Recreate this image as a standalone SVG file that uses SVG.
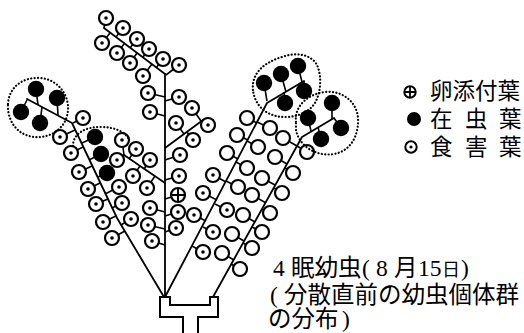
<svg xmlns="http://www.w3.org/2000/svg" width="524" height="333" viewBox="0 0 524 333">
  <style>
    .st { stroke: #000; stroke-width: 1.8; fill: none; stroke-linecap: round; stroke-linejoin: round; }
    .pt { stroke: #000; stroke-width: 1.6; fill: none; }
    .ring { stroke: #000; stroke-width: 2.2; fill: none; stroke-dasharray: 0.1 3.3; stroke-linecap: round; }
    .base { stroke: #000; stroke-width: 2; fill: none; stroke-linejoin: miter; }
    .tx { font-family: "Liberation Serif", "Noto Sans CJK JP", serif; fill: #000; }
  </style>
  <defs>
    <!-- leaf types: open, damaged (dot), occupied (solid), egg-bearing (cross) -->
    <g id="o"><circle r="7" fill="#fff" stroke="#000" stroke-width="2.2"/></g>
    <g id="d"><circle r="7" fill="#fff" stroke="#000" stroke-width="2.2"/><circle r="1.8" fill="#000"/></g>
    <g id="b"><circle r="8.2" fill="#000"/></g>
    <g id="x"><circle r="7" fill="#fff" stroke="#000" stroke-width="2.2"/><path d="M-7,0H7M0,-7V7" stroke="#000" stroke-width="1.9"/></g>
  </defs>
  <rect width="524" height="333" fill="#fff"/>

  <!-- pedestal -->
  <path id="base" class="base" d="M183,333V317H160V297H170V305H210V297H218V317H198V333"/>

  <!-- stems -->
  <g id="stems" class="st">
    <path d="M104,28L165,74"/>
    <path d="M165,74V297"/>
    <path d="M165,148L203,120"/>
    <path d="M165,183L124,155"/>
    <path d="M164,297L117,218L72,123L27,99"/>
    <path d="M165,297L267,103L304,81"/>
    <path d="M213,297L302,137L334,118"/>
  </g>

  <!-- petioles -->
  <path id="petioles" class="pt" d="
    M106,18L104,28 M123,28L116,37 M137,39L130,48 M149,49L143,57 M163,59L156,68
    M102,43L110,33 M117,53L124,44 M130,63L137,53 M143,76L152,64 M179,65L166,75
    M148,93L165,97 M179,97L165,101 M150,112L165,116 M180,155L165,160 M179,176L165,180
    M178,195L165,199 M178,212L165,216 M176,228L165,232 M150,208L165,212 M148,225L165,229 M152,241L165,245
    M176,123L184,134 M192,108L201,121 M193,140L187,132
    M150,160L144,169 M136,149L129,159 M122,140L124,155 M117,160L124,155 M133,176L140,166 M147,188L155,176
    M60,137L75,130 M71,153L83,147 M79,172L92,166 M88,189L100,183 M96,204L108,199 M103,222L116,216 M112,238L125,231
    M95,137L82,143 M101,154L89,160 M107,173L98,177 M119,187L105,194 M122,203L112,208 M131,219L121,225 M83,118L73,123
    M36,89L38,105 M57,98L58,115 M21,112L27,100 M40,123L42,107
    M247,118L257,123 M237,135L248,140 M227,153L238,159 M213,175L226,182 M203,193L217,200 M194,215L206,221
    M270,128L257,122 M258,147L247,141 M247,168L236,162 M238,187L226,181 M227,210L215,204 M213,232L203,227 M203,252L192,246
    M264,83L267,101 M281,74L286,92 M298,66L302,82 M304,91L304,81 M285,103L284,92
    M283,138L297,146 M275,157L287,164 M262,178L275,185 M252,195L266,203 M243,215L255,222 M232,234L244,241 M222,253L234,260
    M307,152L297,146 M293,173L285,168 M282,193L274,188 M270,213L262,209 M262,232L252,227 M252,248L243,243 M240,269L231,264
    M308,118L311,131 M332,103L332,119 M341,128L334,118 M321,139L318,127"/>

  <!-- leaves -->
  <g id="leaves">
    <use href="#d" x="106" y="18"/><use href="#d" x="123" y="28"/><use href="#d" x="137" y="39"/>
    <use href="#d" x="149" y="49"/><use href="#d" x="163" y="59"/><use href="#d" x="102" y="43"/>
    <use href="#d" x="117" y="53"/><use href="#d" x="130" y="63"/><use href="#d" x="143" y="76"/>
    <use href="#d" x="179" y="65"/><use href="#d" x="148" y="93"/><use href="#d" x="179" y="97"/>
    <use href="#d" x="150" y="112"/><use href="#d" x="176" y="123"/><use href="#d" x="192" y="108"/>
    <use href="#d" x="208" y="125"/><use href="#d" x="193" y="140"/><use href="#d" x="180" y="155"/>
    <use href="#d" x="179" y="176"/><use href="#x" x="178" y="195"/><use href="#d" x="178" y="212"/>
    <use href="#d" x="176" y="228"/><use href="#d" x="150" y="208"/><use href="#d" x="148" y="225"/>
    <use href="#d" x="152" y="241"/><use href="#d" x="150" y="160"/><use href="#d" x="136" y="149"/>
    <use href="#d" x="122" y="140"/><use href="#d" x="117" y="160"/><use href="#d" x="133" y="176"/>
    <use href="#d" x="147" y="188"/>
    <use href="#d" x="60" y="137"/><use href="#d" x="71" y="153"/><use href="#d" x="79" y="172"/>
    <use href="#d" x="88" y="189"/><use href="#d" x="96" y="204"/><use href="#d" x="103" y="222"/>
    <use href="#d" x="112" y="238"/><use href="#d" x="119" y="187"/><use href="#d" x="122" y="203"/>
    <use href="#d" x="131" y="219"/><use href="#d" x="83" y="118"/>
    <use href="#b" x="36" y="89"/><use href="#b" x="57" y="98"/><use href="#b" x="21" y="112"/><use href="#b" x="40" y="123"/>
    <use href="#b" x="95" y="137"/><use href="#b" x="101" y="154"/><use href="#b" x="107" y="173"/>
    <use href="#d" x="213" y="175"/><use href="#d" x="203" y="193"/><use href="#d" x="194" y="215"/>
    <use href="#d" x="227" y="210"/><use href="#d" x="213" y="232"/><use href="#d" x="203" y="252"/>
    <use href="#o" x="247" y="118"/><use href="#o" x="237" y="135"/><use href="#o" x="227" y="153"/>
    <use href="#o" x="270" y="128"/><use href="#o" x="258" y="147"/><use href="#o" x="247" y="168"/>
    <use href="#o" x="238" y="187"/>
    <use href="#o" x="283" y="138"/><use href="#o" x="275" y="157"/><use href="#o" x="262" y="178"/>
    <use href="#o" x="252" y="195"/><use href="#o" x="243" y="215"/><use href="#o" x="232" y="234"/>
    <use href="#o" x="222" y="253"/><use href="#o" x="307" y="152"/><use href="#o" x="293" y="173"/>
    <use href="#o" x="282" y="193"/><use href="#o" x="270" y="213"/><use href="#o" x="262" y="232"/>
    <use href="#o" x="252" y="248"/><use href="#o" x="240" y="269"/>
    <use href="#b" x="264" y="83"/><use href="#b" x="281" y="74"/><use href="#b" x="298" y="66"/>
    <use href="#b" x="304" y="91"/><use href="#b" x="285" y="103"/>
    <use href="#b" x="308" y="118"/><use href="#b" x="332" y="103"/><use href="#b" x="341" y="128"/><use href="#b" x="321" y="139"/>
  </g>

  <!-- dotted outlines round the larval groups -->
  <g id="groups" class="ring">
    <path d="M8,104C9,86 24,77 40,78C56,79 67,92 68,106C69,122 58,135 41,137C22,139 7,125 8,104Z"/>
    <path d="M73,146C73,133 86,127 100,127C114,127 124,131 129,139"/>
    <path d="M253,90C251,73 265,62 282,57C296,52 311,54 317,65C322,76 321,92 315,103C309,112 298,117 285,117C268,117 255,107 253,90Z"/>
    <path d="M296,122C294,106 308,94 325,92C342,90 357,102 358,118C359,135 351,151 334,154C316,157 299,146 296,130Z"/>
  </g>

  <!-- legend -->
  <g id="legend">
    <circle cx="410" cy="92" r="5.7" fill="#fff" stroke="#000" stroke-width="2"/>
    <path d="M404.3,92H415.7M410,86.3V97.7" stroke="#000" stroke-width="1.8"/>
    <circle cx="414" cy="119" r="7" fill="#000"/>
    <circle cx="411" cy="147" r="5.7" fill="#fff" stroke="#000" stroke-width="2"/>
    <circle cx="411" cy="147" r="1.6" fill="#000"/>
    <text class="tx" x="430" y="99" font-size="22.5">卵添付葉</text>
    <text class="tx" x="430 452 465 487 499" y="127" font-size="22.5">在 虫 葉</text>
    <text class="tx" x="430 452 465 487 499" y="155" font-size="22.5">食 害 葉</text>
  </g>

  <!-- caption -->
  <g id="caption" class="tx" font-size="23.5">
    <text y="276"><tspan x="273">4</tspan> <tspan x="291">眠幼虫</tspan><tspan x="362">(</tspan> <tspan x="376">8</tspan> <tspan x="394">月</tspan><tspan x="418">15</tspan><tspan x="442" font-size="18">日</tspan><tspan x="461">)</tspan></text>
    <text y="303"><tspan x="270">(</tspan><tspan x="284">分散直前の幼虫個体群</tspan></text>
    <text y="327"><tspan x="268">の分布</tspan><tspan x="342">)</tspan></text>
  </g>
</svg>
